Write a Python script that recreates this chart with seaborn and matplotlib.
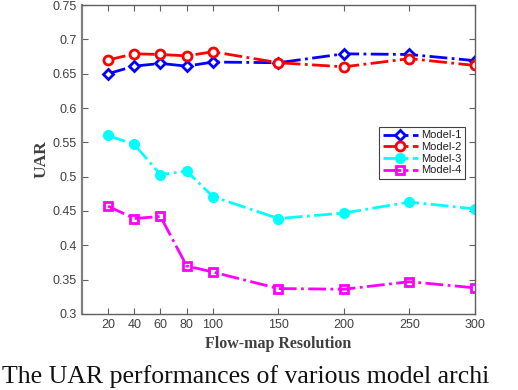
import matplotlib
matplotlib.use("Agg")
import matplotlib.pyplot as plt
import seaborn as sns
from matplotlib.ticker import FormatStrFormatter

# Flow-map resolutions on the x axis
resolutions = [20, 40, 60, 80, 100, 150, 200, 250, 300]

# UAR
model_1 = [0.650, 0.661, 0.665, 0.661, 0.667, 0.666, 0.679, 0.678, 0.669]
model_2 = [0.670, 0.679, 0.678, 0.676, 0.682, 0.666, 0.660, 0.672, 0.662]
model_3 = [0.560, 0.547, 0.503, 0.508, 0.471, 0.439, 0.447, 0.463, 0.453]
model_4 = [0.457, 0.439, 0.442, 0.370, 0.361, 0.337, 0.336, 0.347, 0.338]

labels = ["Model-1", "Model-2", "Model-3", "Model-4"]
y_ticks = [0.3, 0.35, 0.4, 0.45, 0.5, 0.55, 0.6, 0.65, 0.7, 0.75]

sns.set_style("white")
plt.rcParams["font.family"] = ["Liberation Sans", "DejaVu Sans"]

fig = plt.figure(figsize=(5.18, 3.90), dpi=100)
ax = fig.add_axes([0.158, 0.195, 0.759, 0.792])

styles = [
    dict(color="#0000ff", marker="D", markerfacecolor="white", markersize=5.5),
    dict(color="#ff0000", marker="o", markerfacecolor="white", markersize=6.5),
    dict(color="#00ffff", marker="o", markerfacecolor="#00ffff", markersize=6),
    dict(color="#ff00ff", marker="s", markerfacecolor="none", markersize=6),
]

for values, label, st in zip([model_1, model_2, model_3, model_4], labels, styles):
    sns.lineplot(
        x=resolutions,
        y=values,
        ax=ax,
        label=label,
        linestyle="-.",
        linewidth=2,
        markeredgewidth=2,
        markeredgecolor=st["color"],
        **st,
    )

ax.set_xlim(0, 300)
ax.set_ylim(0.3, 0.75)
ax.set_xticks(resolutions)
ax.set_yticks(y_ticks)
ax.yaxis.set_major_formatter(FormatStrFormatter("%g"))

gray = "#404040"
for side in ["left", "right", "top", "bottom"]:
    ax.spines[side].set_visible(True)
    ax.spines[side].set_color("#606060")
    ax.spines[side].set_linewidth(1.0)
ax.spines["left"].set_linewidth(1.6)
ax.spines["left"].set_color("#808080")

ax.tick_params(direction="in", length=4, width=0.8, colors="#606060",
               labelcolor=gray, labelsize=9, top=True, right=True,
               left=True, bottom=True)

ax.set_xlabel("Flow-map Resolution", fontfamily="Liberation Serif",
              fontweight="bold", fontsize=11.5, color=gray, labelpad=4)
ax.set_ylabel("UAR", fontfamily="Liberation Serif", fontweight="bold",
              fontsize=12.5, color=gray, labelpad=2)

leg = ax.legend(loc="upper right", bbox_to_anchor=(0.975, 0.605),
                fontsize=8, fancybox=False, framealpha=1, edgecolor="#404040",
                handlelength=3.2, handletextpad=0.3, borderpad=0.3,
                labelspacing=0.15, borderaxespad=0)
leg.get_frame().set_linewidth(0.8)
for t in leg.get_texts():
    t.set_color("#202020")

# caption fragment visible at the bottom of the reference
fig.text(0.003, 0.006, "The UAR performances of various model archi",
         fontfamily="Liberation Serif", fontsize=18.5, color="#111111",
         va="bottom", ha="left")

fig.savefig("out.png", dpi=100)
